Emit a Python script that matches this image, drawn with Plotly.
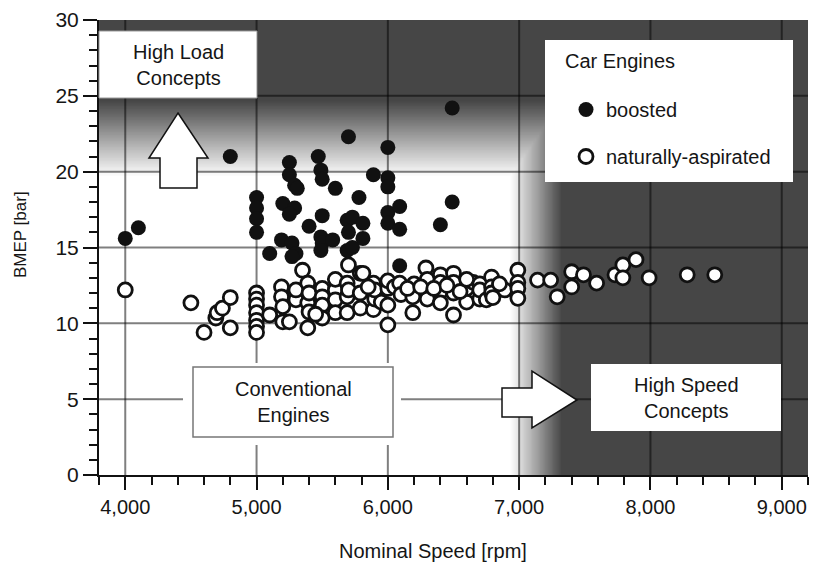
import numpy as np
import plotly.graph_objects as go

# ---------------- data ----------------
boosted_rpm = [4000, 4100, 4800,
               5000, 5000, 5000, 5000, 5100, 5200, 5190,
               5250, 5250, 5290, 5310, 5290, 5250, 5270, 5300, 5270,
               5400, 5470, 5490, 5500, 5500, 5490, 5500, 5490,
               5580, 5600, 5700, 5690, 5700, 5690, 5730, 5730,
               5780, 5810, 5810, 5890, 6000, 6000, 6000, 6000, 6000,
               6090, 6090, 6090, 6400, 6490, 6490]
boosted_bmep = [15.6, 16.3, 21.0,
                18.3, 17.6, 16.9, 16.0, 14.6, 17.9, 15.5,
                20.6, 19.8, 19.1, 18.9, 17.6, 17.2, 15.3, 14.6, 14.4,
                16.4, 21.0, 20.1, 19.5, 17.1, 15.7, 15.3, 14.8,
                15.5, 18.9, 22.3, 16.8, 16.0, 14.8, 17.0, 15.0,
                18.3, 16.6, 15.6, 19.8, 21.6, 19.6, 19.0, 17.3, 16.6,
                17.7, 16.2, 13.8, 16.5, 24.2, 18.0]

na_rpm = [4000, 4500, 4600, 4690, 4700, 4740, 4800, 4800,
          5000, 5000, 5000, 5000, 5000, 5000, 5000,
          5100, 5190, 5190, 5200, 5200, 5250, 5300, 5300,
          5350, 5390, 5390, 5400, 5390, 5400,
          5500, 5500, 5500, 5500, 5450,
          5600, 5600, 5600, 5600,
          5700, 5690, 5690, 5690, 5700,
          5790, 5790, 5790, 5810, 5890, 5890, 5900, 5900, 5850, 5950,
          6000, 6000, 6000, 6000, 6050,
          6090, 6100, 6190, 6190, 6200, 6150,
          6290, 6290, 6300, 6300, 6250,
          6400, 6400, 6400, 6400, 6350,
          6500, 6500, 6500, 6500, 6450,
          6600, 6600, 6650, 6700, 6700, 6550, 6600, 6700,
          6750, 6790, 6790, 6790, 6800, 6890, 6850,
          6990, 6990, 6990, 6990,
          7140, 7240, 7290, 7400, 7400, 7490, 7590,
          7730, 7790, 7890, 7790, 7990, 8280, 8490]
na_bmep = [12.2, 11.35, 9.4, 10.35, 10.7, 11.0, 11.7, 9.7,
           12.0, 11.6, 11.2, 10.7, 10.2, 9.8, 9.4,
           10.55, 12.4, 11.75, 11.1, 10.1, 10.1, 11.55, 12.2,
           13.5, 12.65, 11.35, 10.75, 9.7, 12.0,
           12.3, 11.75, 11.2, 10.35, 10.6,
           12.2, 11.55, 10.7, 12.9,
           13.85, 12.65, 11.75, 10.7, 12.2,
           13.3, 12.0, 11.0, 13.3, 12.65, 10.9, 11.6, 12.2, 12.4, 11.4,
           12.3, 11.2, 9.9, 12.8, 12.4,
           12.65, 11.9, 11.75, 10.7, 12.6, 12.3,
           13.65, 12.2, 11.6, 12.9, 12.4,
           13.2, 12.1, 11.35, 12.7, 12.3,
           13.3, 12.0, 10.55, 12.7, 12.5,
           11.4, 12.3, 12.7, 12.6, 11.6, 12.1, 12.9, 12.2,
           11.55, 13.05, 12.4, 12.0, 11.7, 12.2, 12.6,
           13.5, 12.7, 12.3, 11.65,
           12.85, 12.85, 11.75, 13.4, 12.4, 13.2, 12.65,
           13.2, 13.85, 14.2, 13.0, 13.0, 13.2, 13.2]

x_ticks = [4000, 5000, 6000, 7000, 8000, 9000]
y_ticks = [0, 5, 10, 15, 20, 25, 30]
X_RANGE = [3800, 9200]
Y_RANGE = [0, 30]

# ---------------- layout geometry ----------------
W, H = 814, 568
L, R, T, B = 99, 6, 20, 93
PW, PH = W - L - R, H - T - B
FONT = "Liberation Sans, Arial, sans-serif"
DARK = "#464646"
TXT = "#151515"


def px(x):
    return (x - L) / PW


def py(y):
    return (H - B - y) / PH


# ---------------- background shading ----------------
bx = np.arange(X_RANGE[0], X_RANGE[1] + 1, 20)
by = np.arange(Y_RANGE[0], Y_RANGE[1] + 0.001, 0.1)
GX, GY = np.meshgrid(bx, by)
top_shade = np.clip((GY - 19.7) / (24.7 - 19.7), 0, 1)
right_shade = np.clip((GX - 6930) / (7320 - 6930), 0, 1)
shade = np.maximum(top_shade, right_shade)

fig = go.Figure()
fig.add_trace(go.Heatmap(x=bx, y=by, z=shade, zmin=0, zmax=1, zsmooth="best",
                         colorscale=[[0, "white"], [1, DARK]], showscale=False,
                         hoverinfo="skip"))

# grid lines (drawn over the shading, below the markers)
gx, gy = [], []
for t in x_ticks:
    gx += [t, t, None]
    gy += [Y_RANGE[0], Y_RANGE[1], None]
for t in y_ticks[1:-1]:
    gx += [X_RANGE[0], X_RANGE[1], None]
    gy += [t, t, None]
fig.add_trace(go.Scatter(x=gx, y=gy, mode="lines", showlegend=False, hoverinfo="skip",
                         line=dict(color="rgba(0,0,0,0.5)", width=2)))

fig.add_trace(go.Scatter(x=na_rpm, y=na_bmep, mode="markers", name="naturally-aspirated",
                         legendgroup="na", legendrank=2,
                         marker=dict(size=14, color="white", line=dict(color="#111", width=2.8))))
fig.add_trace(go.Scatter(x=boosted_rpm, y=boosted_bmep, mode="markers", name="boosted",
                         legendgroup="b", legendrank=1,
                         marker=dict(size=15, color="#111", line=dict(width=0))))

# ---------------- decorations ----------------
shapes = []
annotations = []


def rect(x0, y0, x1, y1, line_color=None, lw=0):
    shapes.append(dict(type="rect", xref="paper", yref="paper", layer="above",
                       x0=px(x0), x1=px(x1), y0=py(y1), y1=py(y0),
                       fillcolor="white",
                       line=dict(color=line_color or "white", width=lw)))


def poly(points):
    d = "M " + " L ".join(f"{px(a):.5f},{py(b):.5f}" for a, b in points) + " Z"
    shapes.append(dict(type="path", xref="paper", yref="paper", layer="above", path=d,
                       fillcolor="white", line=dict(color="#111", width=1.5)))


def label(text, cx, cy, size=20, xanchor="center"):
    annotations.append(dict(text=text, x=px(cx), y=py(cy), xref="paper", yref="paper",
                            xanchor=xanchor, yanchor="middle", showarrow=False,
                            font=dict(family=FONT, size=size, color=TXT)))


# High Load Concepts
rect(99, 31, 257, 98, "#999", 1)
label("High Load<br>Concepts", 178, 65)
poly([(178, 113), (208, 158), (197, 158), (197, 188), (160, 188), (160, 158), (149, 158)])

# Conventional Engines
rect(183, 363, 401, 445)
rect(193, 367, 393, 437, "#777", 1.5)
label("Conventional<br>Engines", 293, 402)

# High Speed Concepts
poly([(502, 388), (532, 388), (532, 371), (577, 400), (532, 428), (532, 417), (502, 417)])
rect(591, 364, 781, 431)
label("High Speed<br>Concepts", 686, 398)

# legend box
rect(545, 40, 793, 182)
label("Car Engines", 563, 61, xanchor="left")

# axis titles
label("Nominal Speed [rpm]", 433, 551)
annotations.append(dict(text="BMEP [bar]", x=px(20), y=py(235), xref="paper", yref="paper",
                        xanchor="center", yanchor="middle", showarrow=False, textangle=-90,
                        font=dict(family=FONT, size=17, color=TXT)))

fig.update_layout(
    width=W, height=H, margin=dict(l=L, r=R, t=T, b=B, pad=0),
    paper_bgcolor="white", plot_bgcolor="white",
    font=dict(family=FONT, size=20, color=TXT),
    shapes=shapes, annotations=annotations,
    showlegend=True,
    legend=dict(x=px(566), y=py(90), xanchor="left", yanchor="top",
                bgcolor="rgba(0,0,0,0)", borderwidth=0,
                traceorder="grouped", tracegroupgap=18,
                font=dict(family=FONT, size=20, color=TXT)),
)
fig.update_xaxes(range=X_RANGE, tickvals=x_ticks, tickformat=",", showgrid=False,
                 zeroline=False, showline=True, linecolor="#111", linewidth=2,
                 ticks="outside", ticklen=13, tickwidth=2, tickcolor="#111",
                 minor=dict(dtick=200, ticks="outside", ticklen=8, tickwidth=1.5, tickcolor="#111"),
                 tickfont=dict(family=FONT, size=20, color=TXT))
fig.update_yaxes(range=Y_RANGE, tickvals=y_ticks, showgrid=False,
                 zeroline=False, showline=True, linecolor="#111", linewidth=2,
                 ticks="outside", ticklen=14, tickwidth=2, tickcolor="#111",
                 minor=dict(dtick=1, ticks="outside", ticklen=8, tickwidth=1.5, tickcolor="#111"),
                 tickfont=dict(family=FONT, size=21, color=TXT))

fig.write_html("out.html")
